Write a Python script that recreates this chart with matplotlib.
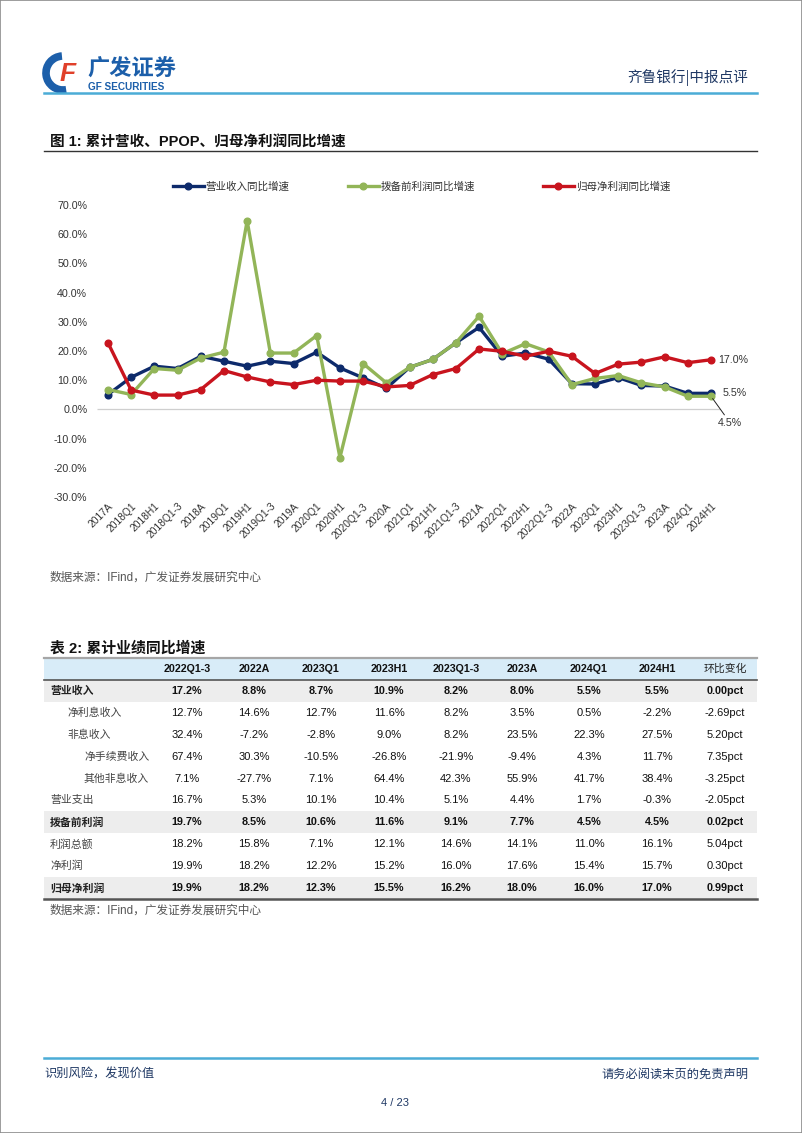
import matplotlib.pyplot as plt
from matplotlib.patches import Rectangle, Arc
from matplotlib.lines import Line2D

plt.rcParams['font.family'] = ['Liberation Sans', 'Noto Sans CJK SC', 'DejaVu Sans']

# ---- chart data (cumulative YoY growth, %)
periods = ['2017A', '2018Q1', '2018H1', '2018Q1-3', '2018A', '2019Q1', '2019H1', '2019Q1-3',
           '2019A', '2020Q1', '2020H1', '2020Q1-3', '2020A', '2021Q1', '2021H1', '2021Q1-3',
           '2021A', '2022Q1', '2022H1', '2022Q1-3', '2022A', '2023Q1', '2023H1', '2023Q1-3',
           '2023A', '2024Q1', '2024H1']
revenue = [5.1, 11.0, 14.8, 14.0, 18.2, 16.5, 14.8, 16.5, 15.7, 19.6, 14.2, 10.8, 7.2, 14.4,
           17.1, 22.8, 28.1, 18.2, 19.3, 17.2, 8.8, 8.7, 10.9, 8.2, 8.0, 5.5, 5.5]
ppop = [6.8, 5.1, 14.0, 13.4, 17.6, 19.6, 64.6, 19.3, 19.3, 25.3, -16.5, 15.7, 9.1, 14.4,
        17.1, 22.8, 31.9, 19.1, 22.5, 19.7, 8.5, 10.6, 11.6, 9.1, 7.7, 4.5, 4.5]
net_profit = [22.8, 6.6, 4.9, 4.9, 6.8, 13.3, 11.1, 9.4, 8.5, 10.0, 9.7, 9.7, 7.7, 8.2,
              11.9, 14.0, 20.7, 19.9, 18.2, 19.9, 18.2, 12.3, 15.5, 16.2, 18.0, 16.0, 17.0]
series_names = ['营业收入同比增速', '拨备前利润同比增速', '归母净利润同比增速']
yticks = [-30, -20, -10, 0, 10, 20, 30, 40, 50, 60, 70]

# ---- table data
col_names = ['2022Q1-3', '2022A', '2023Q1', '2023H1', '2023Q1-3', '2023A', '2024Q1', '2024H1', '环比变化']
row_names = ['营业收入', '净利息收入', '非息收入', '净手续费收入', '其他非息收入', '营业支出',
             '拨备前利润', '利润总额', '净利润', '归母净利润']
row_level = [0, 1, 1, 2, 2, 0, 0, 0, 0, 0]
bold_rows = ['营业收入', '拨备前利润', '归母净利润']
table_vals = [
    ['17.2%', '8.8%', '8.7%', '10.9%', '8.2%', '8.0%', '5.5%', '5.5%', '0.00pct'],
    ['12.7%', '14.6%', '12.7%', '11.6%', '8.2%', '3.5%', '0.5%', '-2.2%', '-2.69pct'],
    ['32.4%', '-7.2%', '-2.8%', '9.0%', '8.2%', '23.5%', '22.3%', '27.5%', '5.20pct'],
    ['67.4%', '30.3%', '-10.5%', '-26.8%', '-21.9%', '-9.4%', '4.3%', '11.7%', '7.35pct'],
    ['7.1%', '-27.7%', '7.1%', '64.4%', '42.3%', '55.9%', '41.7%', '38.4%', '-3.25pct'],
    ['16.7%', '5.3%', '10.1%', '10.4%', '5.1%', '4.4%', '1.7%', '-0.3%', '-2.05pct'],
    ['19.7%', '8.5%', '10.6%', '11.6%', '9.1%', '7.7%', '4.5%', '4.5%', '0.02pct'],
    ['18.2%', '15.8%', '7.1%', '12.1%', '14.6%', '14.1%', '11.0%', '16.1%', '5.04pct'],
    ['19.9%', '18.2%', '12.2%', '15.2%', '16.0%', '17.6%', '15.4%', '15.7%', '0.30pct'],
    ['19.9%', '18.2%', '12.3%', '15.5%', '16.2%', '18.0%', '16.0%', '17.0%', '0.99pct'],
]

W, H = 802, 1133
fig = plt.figure(figsize=(W / 100, H / 100), dpi=100)


def fx(x):
    return x / W


def fy(y):
    return 1 - y / H


def hline(y, x0, x1, color, lw):
    fig.add_artist(Line2D([fx(x0), fx(x1)], [fy(y), fy(y)], color=color, lw=lw))


navy = '#1f3864'
cjk = ['Noto Sans CJK SC']
# page frame
fig.add_artist(Rectangle((0, 0), 1, 1, fill=False, ec='#8c8c8c', lw=1.2))

# ---- header
fig.add_artist(Arc((fx(63), fy(73)), fx(34), 34 / H, theta1=95, theta2=285,
                   color='#1c5faa', lw=5.5))
fig.text(fx(60), fy(74), 'F', color='#e0402a', fontsize=19, fontweight='bold',
         style='italic', ha='left', va='center')
fig.text(fx(87), fy(69), '广发证券', color='#1c5faa', fontsize=16, fontweight='bold',
         ha='left', va='center', family=cjk)
fig.text(fx(88), fy(87.5), 'GF SECURITIES', color='#1c5faa', fontsize=7.2, fontweight='bold',
         ha='left', va='center')
fig.text(fx(748), fy(78), '齐鲁银行|中报点评', color=navy, fontsize=10.5, ha='right',
         va='center', family=cjk)
hline(93, 44, 757, '#4bacd6', 1.8)

# ---- figure 1 title
fig.text(fx(50), fy(143), '图 1: 累计营收、PPOP、归母净利润同比增速', fontsize=10.5,
         fontweight='bold', ha='left', va='center', color='#111111')
hline(151, 44, 757, '#333333', 1.0)

# ---- chart
ax = fig.add_axes([fx(97), fy(497), fx(740 - 97), (497 - 205) / H])
x = list(range(len(periods)))
colors = ['#0d2a6b', '#92b558', '#c8141e']
lines = []
for vals, c, name in zip([revenue, ppop, net_profit], colors, series_names):
    ln, = ax.plot(x, vals, color=c, lw=2.4, marker='o', ms=4.8, label=name)
    lines.append(ln)
ax.hlines(0, -0.47, 26.38, color='#cfcfcf', lw=0.9, zorder=0)
ax.set_xlim(-0.474, 27.25)
ax.set_ylim(-30, 70)
ax.set_yticks(yticks)
ax.set_yticklabels([f'{v:.1f}%' for v in yticks], fontsize=7.7, color='#333333')
ax.set_xticks(x)
ax.set_xticklabels(periods, rotation=45, ha='right', va='top', rotation_mode='anchor',
                   fontsize=7.4, color='#333333')
ax.tick_params(axis='y', length=0, pad=7)
ax.tick_params(axis='x', length=0, pad=3)
for s in ax.spines.values():
    s.set_visible(False)

# end labels
ax.annotate(f'{net_profit[-1]:.1f}%', (x[-1], net_profit[-1]), xytext=(5, 0),
            textcoords='offset points', fontsize=7.7, va='center', color='#333333')
ax.annotate(f'{revenue[-1]:.1f}%', (x[-1], revenue[-1]), xytext=(8, 0),
            textcoords='offset points', fontsize=7.7, va='center', color='#333333')
ax.annotate(f'{ppop[-1]:.1f}%', (x[-1], ppop[-1]), xytext=(5, -19),
            textcoords='offset points', fontsize=7.7, va='center', color='#333333',
            arrowprops=dict(arrowstyle='-', color='#222222', lw=0.7, shrinkA=0, shrinkB=2))

# one legend entry per series, placed like the original
for ln, name, lx in zip(lines, series_names, [173, 348, 543]):
    leg = fig.legend([ln], [name], loc='center left', bbox_to_anchor=(fx(lx), fy(187)),
                     frameon=False, handlelength=2.9, handletextpad=0.2, borderpad=0,
                     borderaxespad=0, prop={'family': cjk, 'size': 7.6})
    leg.get_texts()[0].set_color('#333333')

fig.text(fx(50), fy(578), '数据来源：IFind，广发证券发展研究中心', fontsize=8.4, color='#555555',
         ha='left', va='center')

# ---- table 2
fig.text(fx(50), fy(648), '表 2: 累计业绩同比增速', fontsize=10.7, fontweight='bold',
         ha='left', va='center', color='#111111')
col_x = [187, 254, 321, 389, 456, 522, 589, 657, 725]
top, head_h, row_h = 658, 22, 21.9
fig.add_artist(Rectangle((fx(44), fy(top + head_h)), fx(713), head_h / H, fc='#d8ecf8', ec='none'))
hline(top, 44, 757, '#a6a6a6', 1.6)
for cx, name in zip(col_x, col_names):
    is_cjk = name == '环比变化'
    fig.text(fx(cx), fy(top + head_h / 2), name, fontsize=7.8 if is_cjk else 7.7,
             fontweight='normal' if is_cjk else 'bold', ha='center', va='center',
             color='#222222' if is_cjk else '#111111', family=cjk if is_cjk else None)
for i, (name, lvl, vals) in enumerate(zip(row_names, row_level, table_vals)):
    y0 = top + head_h + i * row_h
    yc = y0 + row_h / 2
    bold = name in bold_rows
    if bold:
        fig.add_artist(Rectangle((fx(44), fy(y0 + row_h)), fx(713), row_h / H, fc='#ededed', ec='none'))
    fig.text(fx(50 + lvl * 17), fy(yc), name, fontsize=7.8, fontweight='bold' if bold else 'normal',
             ha='left', va='center', color='#222222' if bold else '#444444', family=cjk)
    for cx, v in zip(col_x, vals):
        fig.text(fx(cx), fy(yc), v, fontsize=7.8 if bold else 8.0,
                 fontweight='bold' if bold else 'normal',
                 ha='center', va='center', color='#111111')
hline(top + head_h, 44, 757, '#555555', 1.2)
hline(top + head_h + len(row_names) * row_h, 44, 757, '#555555', 1.8)

fig.text(fx(50), fy(911), '数据来源：IFind，广发证券发展研究中心', fontsize=8.4, color='#555555',
         ha='left', va='center')

# ---- footer
hline(1058, 44, 757, '#4bacd6', 1.8)
fig.text(fx(44), fy(1074), '识别风险，发现价值', fontsize=8.8, color=navy, ha='left', va='center',
         family=cjk)
fig.text(fx(748), fy(1074), '请务必阅读末页的免责声明', fontsize=8.8, color=navy, ha='right',
         va='center', family=cjk)
fig.text(fx(395), fy(1103), '4 / 23', fontsize=8, color=navy, ha='center', va='center')

fig.savefig('out.png', dpi=100)
